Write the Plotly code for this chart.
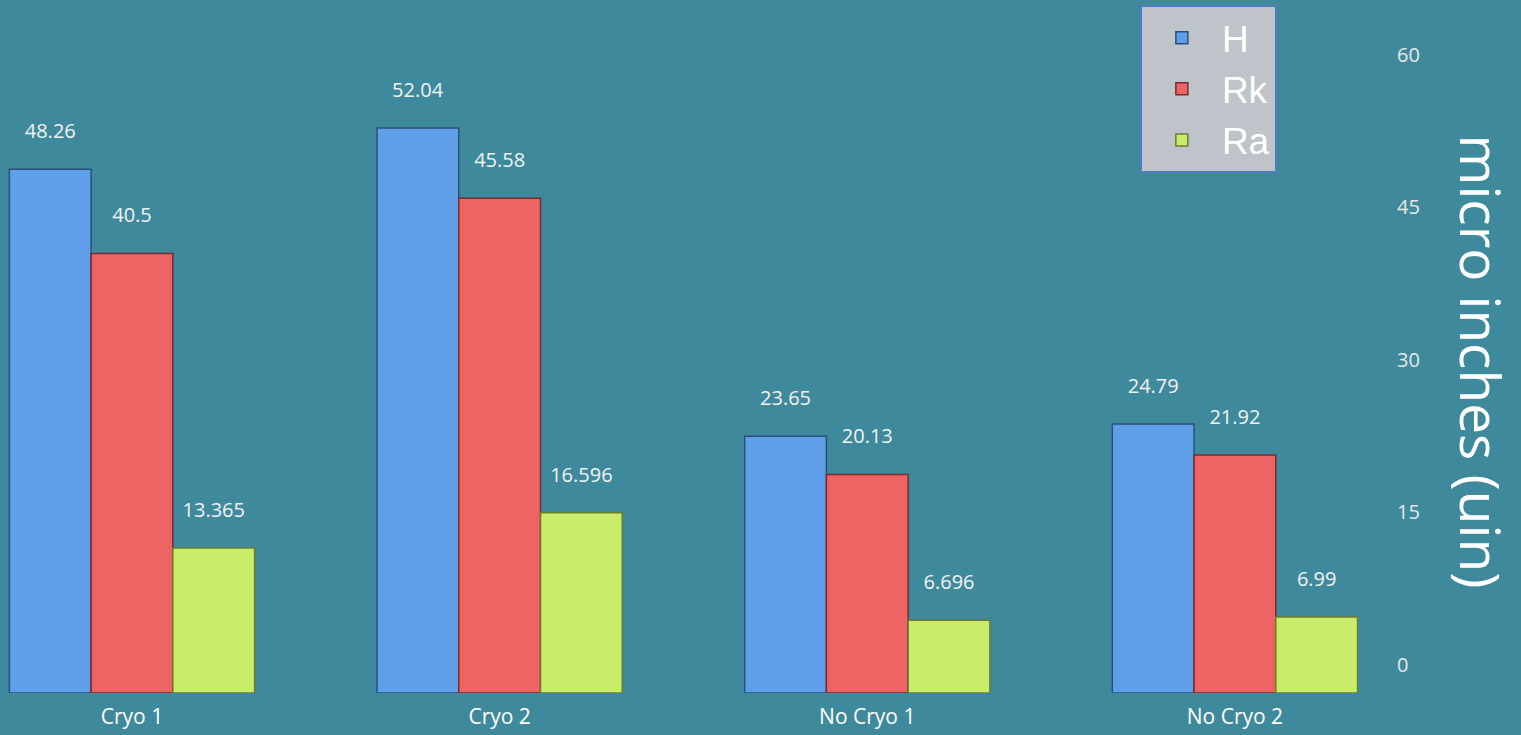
import plotly.graph_objects as go

categories = ["Cryo 1", "Cryo 2", "No Cryo 1", "No Cryo 2"]
series_names = ["H", "Rk", "Ra"]
h_values = [48.26, 52.04, 23.65, 24.79]
rk_values = [40.5, 45.58, 20.13, 21.92]
ra_values = [13.365, 16.596, 6.696, 6.99]
tick_values = [0, 15, 30, 45, 60]
tick_labels = ["0", "15", "30", "45", "60"]

bar_colors = ["#5f9fea", "#ee6464", "#c9ec6a"]
edge_colors = ["#2c4f7a", "#7a2c2c", "#6b7d2a"]
bg = "#3e8a9c"

fig = go.Figure()
for name, vals, col, edge in zip(series_names, [h_values, rk_values, ra_values], bar_colors, edge_colors):
    fig.add_trace(go.Bar(
        name=name,
        x=categories,
        y=vals,
        marker=dict(color=col, line=dict(color=edge, width=1.5)),
        text=[f"{v:g}<br><span style='font-size:6px'> </span>" for v in vals],
        textposition="outside",
        textfont=dict(family="Open Sans", size=20, color="#f2f2f2"),
        cliponaxis=False,
        hoverinfo="x+y+name",
    ))

# right-hand value axis (drawn at its own scale, as in the original 3-D chart)
fig.add_trace(go.Scatter(
    x=[categories[0]], y=[None], yaxis="y2",
    showlegend=False, hoverinfo="skip", mode="markers",
))

fig.update_layout(
    width=1521,
    height=735,
    paper_bgcolor=bg,
    plot_bgcolor=bg,
    barmode="group",
    bargap=0.333,
    bargroupgap=0.0,
    margin=dict(l=0, r=146, t=20, b=42, autoexpand=False),
    showlegend=True,
    legend=dict(
        x=0.829, y=1.022, xanchor="left", yanchor="top",
        bgcolor="#bec4c9",
        bordercolor="#4f7fc0",
        borderwidth=2,
        font=dict(family="Liberation Sans", size=37, color="#ffffff"),
        tracegroupgap=0,
        itemwidth=70,
        entrywidthmode="pixels",
        entrywidth=110,
    ),
    xaxis=dict(
        range=[-0.359, 3.381],
        showgrid=False,
        zeroline=False,
        showline=False,
        ticks="",
        tickfont=dict(family="Open Sans", size=21, color="#ffffff"),
        ticklabelstandoff=9,
    ),
    yaxis=dict(
        range=[0, 62.0],
        visible=False,
        showgrid=False,
        zeroline=False,
    ),
    yaxis2=dict(
        overlaying="y",
        side="right",
        range=[-2.75, 63.4],
        tickmode="array",
        tickvals=tick_values,
        ticktext=tick_labels,
        showgrid=False,
        zeroline=False,
        showline=False,
        ticks="",
        tickfont=dict(family="Open Sans", size=20, color="#e8e8e8"),
        ticklabelstandoff=21,
    ),
    annotations=[dict(
        text="micro inches (uin)",
        xref="paper", yref="paper",
        x=1.0, y=0.5, xanchor="center", yanchor="middle",
        xshift=106, yshift=-5,
        showarrow=False,
        textangle=90,
        font=dict(family="Open Sans", size=55, color="#ffffff"),
    )],
)

fig.write_html(
    "out.html",
    config={"displayModeBar": False},
    post_script="document.body.style.margin='0';document.body.style.overflow='hidden';",
)
